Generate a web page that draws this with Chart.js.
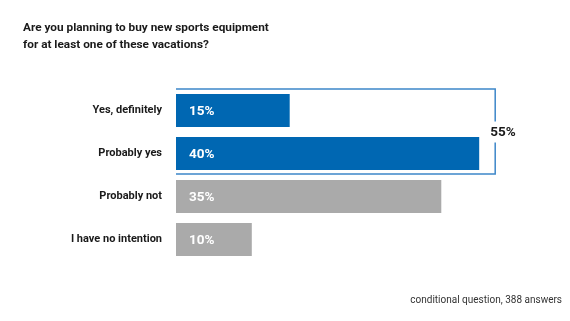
<!DOCTYPE html>
<html><head><meta charset="utf-8">
<script src="https://cdn.jsdelivr.net/npm/chart.js@4/dist/chart.umd.min.js"></script>
<style>
html,body{margin:0;padding:0;background:#fff;}
#wrap{position:relative;width:570px;height:321px;font-family:Roboto,"Liberation Sans",sans-serif;}
#title{position:absolute;left:23px;top:19px;font-weight:bold;font-size:11.8px;line-height:17px;color:#1a1a1a;}
#foot{position:absolute;right:8px;top:294px;font-size:10px;color:#333;}
canvas{position:absolute;left:0;top:0;}
</style></head>
<body>
<div id="wrap">
<canvas id="c" width="570" height="321"></canvas>
<div id="title">Are you planning to buy new sports equipment<br>for at least one of these vacations?</div>
<div id="foot">conditional question, 388 answers</div>
</div>
<script>
const categories = ["Yes, definitely", "Probably yes", "Probably not", "I have no intention"];
const values = [15, 40, 35, 10];
const barColors = ["#0067b2", "#0067b2", "#aaaaaa", "#aaaaaa"];
const bracketGroup = [0, 1];

const valueLabels = {
  id: 'valueLabels',
  afterDatasetsDraw(chart) {
    const ctx = chart.ctx;
    const meta = chart.getDatasetMeta(0);
    ctx.save();
    ctx.font = 'bold 13.5px Roboto, sans-serif';
    ctx.fillStyle = '#fff';
    ctx.textBaseline = 'middle';
    ctx.textAlign = 'left';
    meta.data.forEach((bar, i) => {
      ctx.fillText(values[i] + '%', bar.base + 13, bar.y + 1);
    });
    ctx.restore();
  }
};

const bracket = {
  id: 'bracket',
  afterDatasetsDraw(chart) {
    const ctx = chart.ctx;
    const meta = chart.getDatasetMeta(0);
    const xs = chart.scales.x;
    const b0 = meta.data[bracketGroup[0]], b1 = meta.data[bracketGroup[bracketGroup.length-1]];
    const maxV = Math.max(...bracketGroup.map(i => values[i]));
    const left = xs.getPixelForValue(0);
    const right = xs.getPixelForValue(maxV) + 16;
    const top = b0.y - b0.height/2 - 5;
    const bottom = b1.y + b1.height/2 + 4;
    const mid = (top + bottom) / 2;
    const sum = bracketGroup.reduce((a, i) => a + values[i], 0);
    ctx.save();
    ctx.strokeStyle = '#3d87c9';
    ctx.lineWidth = 1.5;
    ctx.beginPath();
    ctx.moveTo(left, top); ctx.lineTo(right, top); ctx.lineTo(right, mid - 10);
    ctx.moveTo(right, mid + 11); ctx.lineTo(right, bottom); ctx.lineTo(left, bottom);
    ctx.stroke();
    ctx.font = 'bold 13.5px Roboto, sans-serif';
    ctx.fillStyle = '#1a1a1a';
    ctx.textAlign = 'left';
    ctx.textBaseline = 'middle';
    ctx.fillText(sum + '%', right - 5, mid + 1);
    ctx.restore();
  }
};

new Chart(document.getElementById('c'), {
  type: 'bar',
  data: {
    labels: categories,
    datasets: [{
      data: values,
      backgroundColor: barColors,
      borderWidth: 0,
      barPercentage: 0.77,
      categoryPercentage: 1.0
    }]
  },
  options: {
    indexAxis: 'y',
    responsive: false,
    animation: false,
    layout: { padding: { top: 89, bottom: 60, left: 0, right: 15 } },
    plugins: { legend: { display: false }, tooltip: { enabled: false } },
    scales: {
      x: { display: false, min: 0, max: 50 },
      y: {
        grid: { display: false, drawTicks: false },
        border: { display: false },
        afterFit(s) { s.width = 176; },
        ticks: { padding: 14, color: '#1a1a1a', font: { family: 'Roboto', weight: 'bold', size: 11 } }
      }
    }
  },
  plugins: [valueLabels, bracket]
});
</script>
</body></html>
